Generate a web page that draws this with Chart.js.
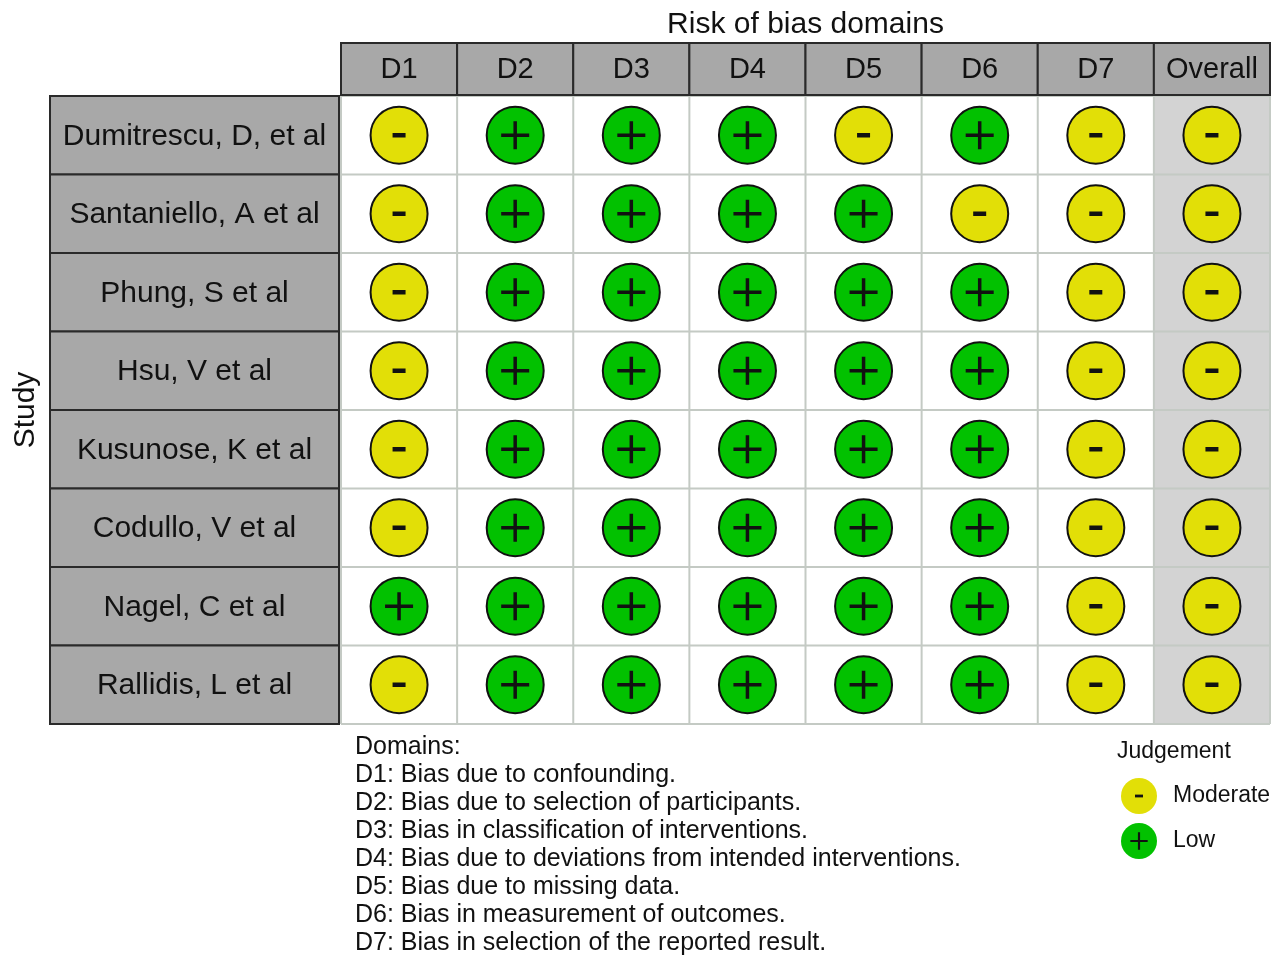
<!DOCTYPE html>
<html>
<head>
<meta charset="utf-8">
<script src="https://cdn.jsdelivr.net/npm/chart.js@4.4.1/dist/chart.umd.min.js"></script>
<style>
  html, body { margin: 0; padding: 0; background: #fff; }
  #wrap { width: 1280px; height: 970px; }
</style>
</head>
<body>
<div id="wrap"><canvas id="rob" width="1280" height="970"></canvas></div>
<script>
const studies = ['Dumitrescu, D, et al', 'Santaniello, A et al', 'Phung, S et al', 'Hsu, V et al',
                 'Kusunose, K et al', 'Codullo, V et al', 'Nagel, C et al', 'Rallidis, L et al'];
const domains = ['D1', 'D2', 'D3', 'D4', 'D5', 'D6', 'D7', 'Overall'];

// judgement per study, one array per domain
const D1 = ['Moderate', 'Moderate', 'Moderate', 'Moderate', 'Moderate', 'Moderate', 'Low', 'Moderate'];
const D2 = ['Low', 'Low', 'Low', 'Low', 'Low', 'Low', 'Low', 'Low'];
const D3 = ['Low', 'Low', 'Low', 'Low', 'Low', 'Low', 'Low', 'Low'];
const D4 = ['Low', 'Low', 'Low', 'Low', 'Low', 'Low', 'Low', 'Low'];
const D5 = ['Moderate', 'Low', 'Low', 'Low', 'Low', 'Low', 'Low', 'Low'];
const D6 = ['Low', 'Moderate', 'Low', 'Low', 'Low', 'Low', 'Low', 'Low'];
const D7 = ['Moderate', 'Moderate', 'Moderate', 'Moderate', 'Moderate', 'Moderate', 'Moderate', 'Moderate'];
const Overall = ['Moderate', 'Moderate', 'Moderate', 'Moderate', 'Moderate', 'Moderate', 'Moderate', 'Moderate'];

const domainText = [
    'D1: Bias due to confounding.',
    'D2: Bias due to selection of participants.',
    'D3: Bias in classification of interventions.',
    'D4: Bias due to deviations from intended interventions.',
    'D5: Bias due to missing data.',
    'D6: Bias in measurement of outcomes.',
    'D7: Bias in selection of the reported result.'
];
const levels = ['Moderate', 'Low'];
const symbols = {'Moderate': '-', 'Low': '+'};
const colors = {'Moderate': '#E2DF07', 'Low': '#02C100'};

const FONT = '"Liberation Sans", Arial, Helvetica, sans-serif';
let judgements = [D1, D2, D3, D4, D5, D6, D7, Overall];

let datasets = levels.map(function(lvl) {
    let pts = [];
    judgements.forEach(function(col, i) {
        col.forEach(function(j, r) {
            if (j == lvl) pts.push({x: i, y: r});
        });
    });
    return {
        label: lvl,
        data: pts,
        backgroundColor: colors[lvl],
        borderColor: '#111',
        borderWidth: 2,
        pointRadius: 28.5,
        pointHoverRadius: 28.5
    };
});

// grid, header cells and study cells drawn against the scales
const tablePlugin = {
    id: 'table',
    beforeDatasetsDraw(chart) {
        let ctx = chart.ctx;
        let xs = chart.scales.x, ys = chart.scales.y;
        let area = chart.chartArea;
        let cw = xs.getPixelForValue(1) - xs.getPixelForValue(0);
        let rh = ys.getPixelForValue(1) - ys.getPixelForValue(0);
        ctx.save();
        // overall column background
        let ox = xs.getPixelForValue(7) - cw / 2;
        ctx.fillStyle = '#d3d3d3';
        ctx.fillRect(ox, area.top, cw, area.bottom - area.top);
        // cell lines
        ctx.strokeStyle = '#c4cac4';
        ctx.lineWidth = 2;
        for (let i = 0; i <= domains.length; i++) {
            let x = xs.getPixelForValue(i - 0.5);
            ctx.beginPath(); ctx.moveTo(x, area.top); ctx.lineTo(x, area.bottom); ctx.stroke();
        }
        for (let r = 0; r <= studies.length; r++) {
            let y = ys.getPixelForValue(r - 0.5);
            ctx.beginPath(); ctx.moveTo(area.left, y); ctx.lineTo(area.right, y); ctx.stroke();
        }
        // header cells
        ctx.textAlign = 'center';
        ctx.textBaseline = 'middle';
        let hTop = area.top - 53, hH = 52;
        domains.forEach(function(d, i) {
            let x0 = xs.getPixelForValue(i - 0.5);
            ctx.fillStyle = '#a8a8a8';
            ctx.fillRect(x0, hTop, cw, hH);
            ctx.strokeStyle = '#2a2a2a';
            ctx.lineWidth = 2;
            ctx.strokeRect(x0, hTop, cw, hH);
            ctx.fillStyle = '#111';
            ctx.font = '29px ' + FONT;
            ctx.fillText(d, x0 + cw / 2, hTop + hH / 2 + 1);
        });
        // study cells
        let sLeft = 50, sRight = area.left - 2;
        studies.forEach(function(s, r) {
            let y0 = ys.getPixelForValue(r - 0.5);
            ctx.fillStyle = '#a8a8a8';
            ctx.fillRect(sLeft, y0, sRight - sLeft, rh);
            ctx.strokeStyle = '#2a2a2a';
            ctx.lineWidth = 2;
            ctx.strokeRect(sLeft, y0, sRight - sLeft, rh);
            ctx.fillStyle = '#111';
            ctx.font = '30px ' + FONT;
            ctx.fillText(s, (sLeft + sRight) / 2, y0 + rh / 2 + 1);
        });
        // titles
        ctx.font = '30px ' + FONT;
        ctx.fillText('Risk of bias domains', (area.left + area.right) / 2, 25);
        ctx.save();
        ctx.translate(26, (area.top + area.bottom) / 2);
        ctx.rotate(-Math.PI / 2);
        ctx.fillText('Study', 0, 0);
        ctx.restore();
        ctx.restore();
    },
    afterDatasetsDraw(chart) {
        let ctx = chart.ctx;
        ctx.save();
        ctx.fillStyle = '#111';
        ctx.strokeStyle = '#111';
        chart.data.datasets.forEach(function(ds, di) {
            let meta = chart.getDatasetMeta(di);
            meta.data.forEach(function(pt) {
                drawSymbol(ctx, symbols[ds.label], pt.x, pt.y, 1);
            });
        });
        // domain legend text
        let area = chart.chartArea;
        ctx.textAlign = 'left';
        ctx.textBaseline = 'middle';
        ctx.font = '25px ' + FONT;
        ctx.fillText('Domains:', 355, area.bottom + 23);
        domainText.forEach(function(t, i) {
            ctx.fillText(t, 355, area.bottom + 51 + i * 28);
        });
        // judgement legend
        ctx.font = '23px ' + FONT;
        ctx.fillText('Judgement', 1117, area.bottom + 28);
        levels.forEach(function(lvl, i) {
            let cy = area.bottom + 72 + i * 45;
            ctx.beginPath();
            ctx.arc(1139, cy, 18, 0, Math.PI * 2);
            ctx.fillStyle = colors[lvl];
            ctx.fill();
            ctx.fillStyle = '#111';
            drawSymbol(ctx, symbols[lvl], 1139, cy, 0.62);
            ctx.font = '23px ' + FONT;
            ctx.textAlign = 'left';
            ctx.fillText(lvl, 1173, cy);
        });
        ctx.restore();
    }
};

function drawSymbol(ctx, sym, x, y, k) {
    ctx.lineCap = 'butt';
    if (sym == '+') {
        ctx.lineWidth = 3.5 * k;
        let h = 14 * k;
        ctx.beginPath();
        ctx.moveTo(x - h, y); ctx.lineTo(x + h, y);
        ctx.moveTo(x, y - h); ctx.lineTo(x, y + h);
        ctx.stroke();
    } else {
        ctx.lineWidth = 4.5 * k;
        let h = 6.5 * k;
        ctx.beginPath();
        ctx.moveTo(x - h, y); ctx.lineTo(x + h, y);
        ctx.stroke();
    }
}

new Chart(document.getElementById('rob').getContext('2d'), {
    type: 'scatter',
    data: { datasets: datasets },
    options: {
        responsive: false,
        animation: false,
        layout: { autoPadding: false, padding: { left: 341, right: 10, top: 96, bottom: 246 } },
        plugins: { legend: { display: false }, tooltip: { enabled: false } },
        scales: {
            x: { type: 'linear', min: -0.5, max: 7.5, display: false },
            y: { type: 'linear', min: -0.5, max: 7.5, reverse: true, display: false }
        }
    },
    plugins: [tablePlugin]
});
</script>
</body>
</html>
